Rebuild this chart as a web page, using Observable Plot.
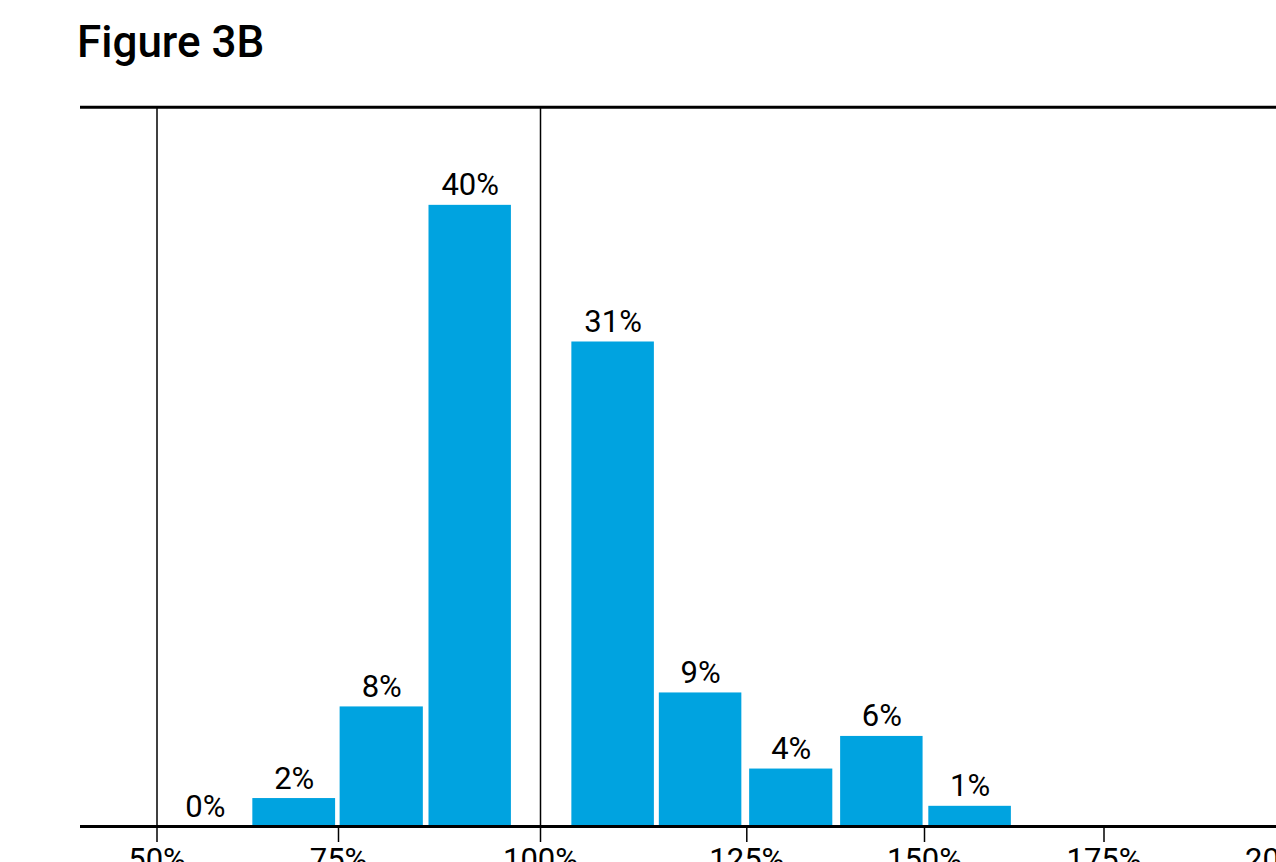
<!DOCTYPE html>
<html><head><meta charset="utf-8">
<script src="https://cdn.jsdelivr.net/npm/d3@7"></script>
<script src="https://cdn.jsdelivr.net/npm/@observablehq/plot@0.6"></script>
<style>
html,body{margin:0;padding:0;background:#fff;overflow:hidden;}
#title{box-sizing:border-box;height:80px;padding:20px 0 0 77px;margin:0;font:500 44px/1 Roboto,sans-serif;color:#000;}
</style></head><body>
<div id="title">Figure 3B</div>
<div id="chart"></div>
<script>
// bins (lower / upper edge, % of reference) and their shares (%)
const binLow  = [51.0, 63.2, 75.2, 86.2, 103.8, 114.4, 125.4, 138.2, 150.6];
const binHigh = [62.3, 74.6, 85.5, 96.4, 113.8, 124.4, 137.1, 149.8, 162.1];
const shares  = [0, 1.8, 7.7, 40.0, 31.2, 8.6, 3.7, 5.8, 1.3];
const tickValues = [50, 75, 100, 125, 150, 175, 200];
const guideValues = [50, 100];

const data = shares.map((v, i) => ({
  lo: binLow[i], hi: binHigh[i], mid: (binLow[i] + binHigh[i]) / 2,
  share: v, label: Math.round(v) + "%"
}));
const yTop = 46.32;

const plot = Plot.plot({
  width: 1276, height: 820,
  marginLeft: 80, marginRight: 0, marginTop: 26.7, marginBottom: 74,
  style: {fontFamily: "Roboto, sans-serif", background: "#fff", color: "#000"},
  x: {type: "linear", domain: tickValues, range: [156.5, 338, 540, 746.3, 924, 1103.5, 1282]},
  y: {domain: [0, yTop], range: [746, 26.7], axis: null},
  marks: [
    Plot.ruleX(guideValues, {y1: 0, y2: yTop, stroke: "#000", strokeWidth: 1.5}),
    Plot.rect(data, {x1: "lo", x2: "hi", y1: 0, y2: "share", fill: "#00a3e0"}),
    Plot.text(data, {x: "mid", y: "share", text: "label", dy: -10, lineAnchor: "bottom", fontSize: 31, fill: "#000"}),
    Plot.ruleY([0], {stroke: "#000", strokeWidth: 3}),
    Plot.ruleY([yTop], {stroke: "#000", strokeWidth: 3}),
    Plot.axisX({ticks: tickValues, tickFormat: d => d + "%", tickSize: 16, tickPadding: 5,
      fontSize: 31, stroke: "#000", strokeWidth: 1.5, fill: "#000", label: null})
  ]
});
document.getElementById("chart").appendChild(plot);
</script>
</body></html>
